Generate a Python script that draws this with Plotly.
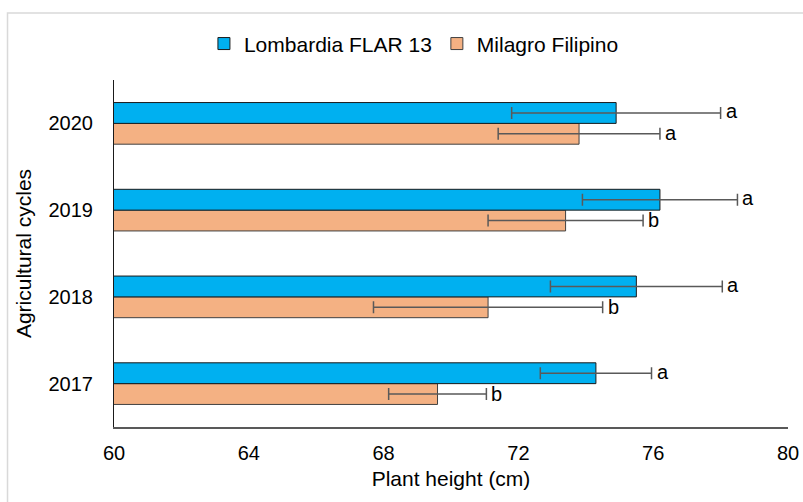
import plotly.graph_objects as go

cycles = ["2017", "2018", "2019", "2020"]
lombardia = [74.3, 75.5, 76.2, 74.9]
lombardia_err = [1.65, 2.55, 2.3, 3.1]
lombardia_letters = ["a", "a", "a", "a"]
milagro = [69.6, 71.1, 73.4, 73.8]
milagro_err = [1.45, 3.4, 2.3, 2.4]
milagro_letters = ["b", "b", "b", "a"]

FONT = "Liberation Sans, Arial, sans-serif"
FS = 20
FT = 21
BLUE = "#00B0F0"
ORANGE = "#F4B183"
ERR = "#595959"

fig = go.Figure()
fig.add_trace(go.Bar(
    y=cycles, x=milagro, orientation="h", name="Milagro Filipino",
    marker=dict(color=ORANGE, line=dict(color="#404040", width=1)),
    error_x=dict(type="data", array=milagro_err, visible=True, color=ERR, thickness=1.5, width=6),
    legendrank=2,
))
fig.add_trace(go.Bar(
    y=cycles, x=lombardia, orientation="h", name="Lombardia FLAR 13",
    marker=dict(color=BLUE, line=dict(color="#1a1a1a", width=1)),
    error_x=dict(type="data", array=lombardia_err, visible=True, color=ERR, thickness=1.5, width=6),
    legendrank=1,
))

# annotations positioned by category index on the category axis
for i, (v, e, t) in enumerate(zip(lombardia, lombardia_err, lombardia_letters)):
    fig.add_annotation(x=v + e, y=i, text=t, showarrow=False, xanchor="left",
                       xshift=3, yshift=12, font=dict(family=FONT, size=FS, color="#000"))
for i, (v, e, t) in enumerate(zip(milagro, milagro_err, milagro_letters)):
    fig.add_annotation(x=v + e, y=i, text=t, showarrow=False, xanchor="left",
                       xshift=3, yshift=-10, font=dict(family=FONT, size=FS, color="#000"))

# outer light-grey chart border
fig.add_shape(type="rect", xref="paper", yref="paper",
              x0=-0.158, x1=1.1, y0=-0.4, y1=1.193,
              line=dict(color="#D9D9D9", width=1.5), fillcolor="rgba(0,0,0,0)", layer="below")

fig.update_layout(
    width=803, height=502,
    margin=dict(l=113.5, r=15, t=80, b=75),
    paper_bgcolor="white", plot_bgcolor="white",
    barmode="group", bargap=0.52, bargroupgap=0,
    font=dict(family=FONT, size=FS, color="#000"),
    showlegend=True,
    legend=dict(orientation="h", x=0.445, y=1.104, xanchor="center", yanchor="middle",
                font=dict(family=FONT, size=FT), itemwidth=30, bgcolor="rgba(0,0,0,0)"),
    xaxis=dict(range=[60, 80], dtick=4, tick0=60, showgrid=False, zeroline=False,
               automargin=False,
               showline=True, linecolor="#595959", linewidth=1.5,
               ticks="outside", ticklen=7, tickcolor="rgba(0,0,0,0)",
               title=dict(text="Plant height (cm)", standoff=9, font=dict(size=FT)),
               tickfont=dict(size=FS)),
    yaxis=dict(type="category", categoryorder="array", categoryarray=cycles,
               range=[-0.5, 3.5], automargin=False,
               showgrid=False, zeroline=False, showline=True, linecolor="#1a1a1a", linewidth=1,
               ticks="outside", ticklen=16, tickcolor="rgba(0,0,0,0)",
               title=dict(text="Agricultural cycles", standoff=11, font=dict(size=FT)),
               tickfont=dict(size=FS)),
)

fig.write_html("out.html")
